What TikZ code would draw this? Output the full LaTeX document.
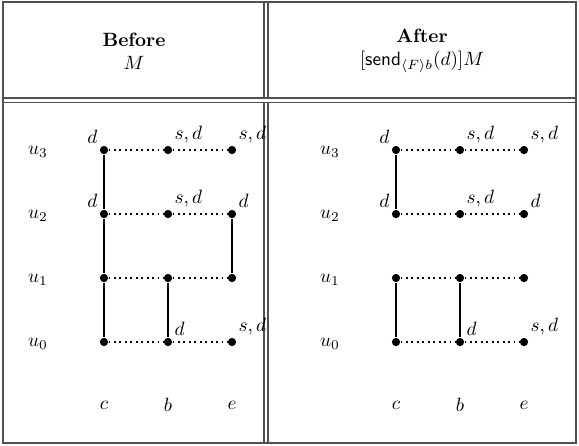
\documentclass[tikz,border=0pt]{standalone}
\usepackage{amsmath,amssymb}
\usepackage{xcolor}
\usepackage{tikz}
\usetikzlibrary{calc}
\definecolor{rulegray}{RGB}{80, 80, 80}

\tikzset{
  state/.style={circle, fill=black, inner sep=0pt, minimum size=4.3pt},
  local/.style={dotted, line width=0.85pt},
  link/.style={line width=0.85pt},
  rule/.style={rulegray, line width=0.55pt},
  tag/.style={inner sep=1.6pt},
}

\begin{document}
\begin{tikzpicture}[x=0.52pt, y=-0.52pt]
  \useasboundingbox (0,0) rectangle (579,445);
  % Table frame
  \draw[rule] (3,2) rectangle (576,443);
  \draw[rule] (3,98) -- (576,98);
  \draw[rule] (3,102.5) -- (576,102.5);
  \foreach \x in {264,268} {
    \draw[rule] (\x,2) -- (\x,98);
    \draw[rule] (\x,102.5) -- (\x,443);
  }
  % Headers
  \node[align=center] (headL) at (134,51) {\textbf{Before}\\ $M$};
  \node[align=center] (headR) at (422,51) {\textbf{After}\\ $[\mathsf{send}_{\langle F\rangle b}(d)]M$};
  % Both panels - same grid of states
  \foreach \p/\o in {L/0, R/292} {
    \foreach \n/\y in {0/342, 1/278, 2/214, 3/150} {
      \node (u\n\p) at (38+\o,\y+2) {$u_{\n}$};
      \node[state] (c\n\p) at (104+\o,\y) {};
      \node[state] (b\n\p) at (168+\o,\y) {};
      \node[state] (e\n\p) at (232+\o,\y) {};
      \draw[local] (c\n\p) -- (b\n\p) -- (e\n\p);
    }
    \node (colc\p) at (104+\o,405) {$c$};
    \node (colb\p) at (168+\o,405) {$b$};
    \node (cole\p) at (232+\o,405) {$e$};
    % Variables held at each state
    \node[tag, anchor=south east] at (c3\p.north west) {$d$};
    \node[tag, anchor=south west] at (b3\p.north east) {$s,d$};
    \node[tag, anchor=south west] at (e3\p.north east) {$s,d$};
    \node[tag, anchor=south east] at (c2\p.north west) {$d$};
    \node[tag, anchor=south west] at (b2\p.north east) {$s,d$};
    \node[tag, anchor=south west] at (e2\p.north east) {$d$};
    \node[tag, anchor=south west] at (b0\p.north east) {$d$};
    \node[tag, anchor=south west] at (e0\p.north east) {$s,d$};
    % Links kept in both
    \draw[link] (c3\p) -- (c2\p);
    \draw[link] (c1\p) -- (c0\p);
    \draw[link] (b1\p) -- (b0\p);
  }
  % Links only before the send
  \draw[link] (c2L) -- (c1L);
  \draw[link] (e2L) -- (e1L);
\end{tikzpicture}
\end{document}
